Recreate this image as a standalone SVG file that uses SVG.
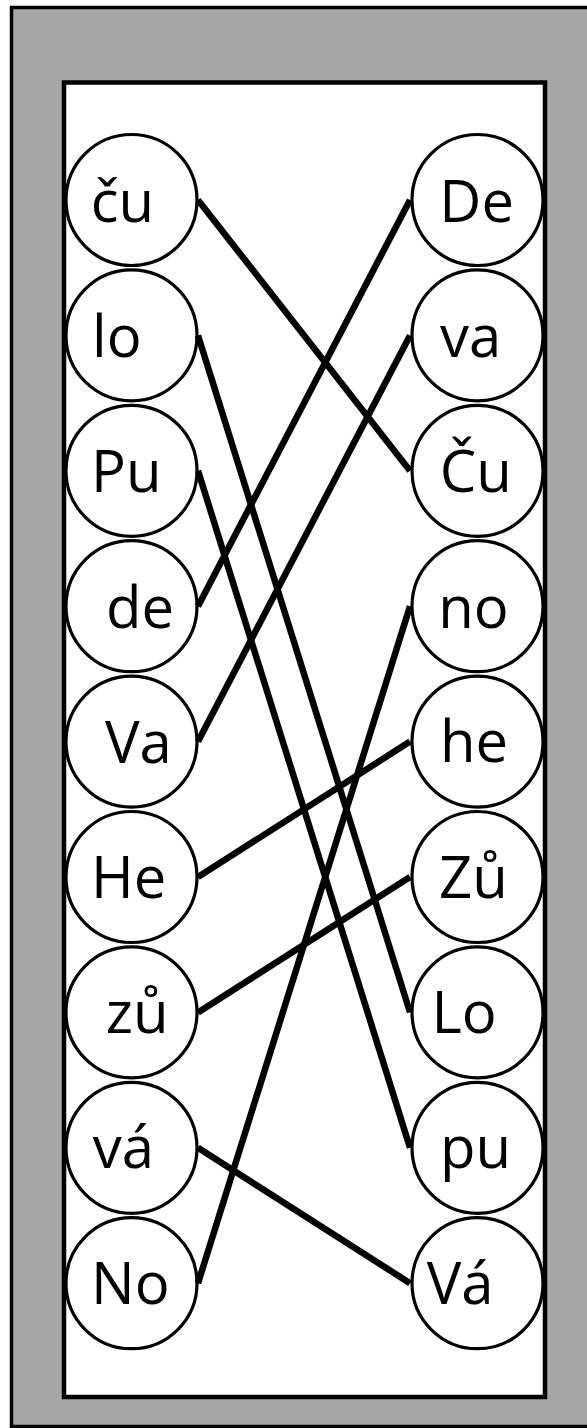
<svg xmlns="http://www.w3.org/2000/svg" width="587" height="1428" viewBox="0 0 587 1428">
<style>
.n circle{fill:#fff;stroke:#000;stroke-width:3.2}
.n text{font-family:"Open Sans","Noto Sans",sans-serif;font-size:58px;fill:#000}
#connectors line{stroke:#000;stroke-width:6.5;stroke-linecap:butt}
</style>
<rect x="11.5" y="7.5" width="590" height="1419" fill="#a6a6a6" stroke="#000" stroke-width="3.5"/>
<rect x="64" y="82.5" width="481" height="1314.5" fill="#fff" stroke="#000" stroke-width="4.5"/>
<g id="L1" class="n"><circle cx="131.5" cy="200" r="65.5"/><text x="90.7" y="222">ču</text></g>
<g id="L2" class="n"><circle cx="131.5" cy="335.4" r="65.5"/><text x="92" y="357">lo</text></g>
<g id="L3" class="n"><circle cx="131.5" cy="470.8" r="65.5"/><text x="91" y="492">Pu</text></g>
<g id="L4" class="n"><circle cx="131.5" cy="606.2" r="65.5"/><text x="106" y="628">de</text></g>
<g id="L5" class="n"><circle cx="131.5" cy="741.6" r="65.5"/><text x="105" y="763">Va</text></g>
<g id="L6" class="n"><circle cx="131.5" cy="877" r="65.5"/><text x="91" y="898">He</text></g>
<g id="L7" class="n"><circle cx="131.5" cy="1012.4" r="65.5"/><text x="105.7" y="1033">zů</text></g>
<g id="L8" class="n"><circle cx="131.5" cy="1147.8" r="65.5"/><text x="92.7" y="1168">vá</text></g>
<g id="L9" class="n"><circle cx="131.5" cy="1283.2" r="65.5"/><text x="91" y="1304">No</text></g>
<g id="R1" class="n"><circle cx="477.5" cy="200" r="65.5"/><text x="439.3" y="222">De</text></g>
<g id="R2" class="n"><circle cx="477.5" cy="335.4" r="65.5"/><text x="440" y="357">va</text></g>
<g id="R3" class="n"><circle cx="477.5" cy="470.8" r="65.5"/><text x="439.8" y="492">Ču</text></g>
<g id="R4" class="n"><circle cx="477.5" cy="606.2" r="65.5"/><text x="438.3" y="628">no</text></g>
<g id="R5" class="n"><circle cx="477.5" cy="741.6" r="65.5"/><text x="440" y="762">he</text></g>
<g id="R6" class="n"><circle cx="477.5" cy="877" r="65.5"/><text x="439" y="898">Zů</text></g>
<g id="R7" class="n"><circle cx="477.5" cy="1012.4" r="65.5"/><text x="431.6" y="1033">Lo</text></g>
<g id="R8" class="n"><circle cx="477.5" cy="1147.8" r="65.5"/><text x="440" y="1168">pu</text></g>
<g id="R9" class="n"><circle cx="477.5" cy="1283.2" r="65.5"/><text x="426.7" y="1304">Vá</text></g>
<g id="connectors">
<line x1="198" y1="200" x2="410" y2="470.8"/>
<line x1="198" y1="335.4" x2="410" y2="1012.4"/>
<line x1="198" y1="470.8" x2="410" y2="1147.8"/>
<line x1="198" y1="606.2" x2="410" y2="200"/>
<line x1="198" y1="741.6" x2="410" y2="335.4"/>
<line x1="198" y1="877" x2="410" y2="741.6"/>
<line x1="198" y1="1012.4" x2="410" y2="877"/>
<line x1="198" y1="1147.8" x2="410" y2="1283.2"/>
<line x1="198" y1="1283.2" x2="410" y2="606.2"/>
</g>
</svg>
